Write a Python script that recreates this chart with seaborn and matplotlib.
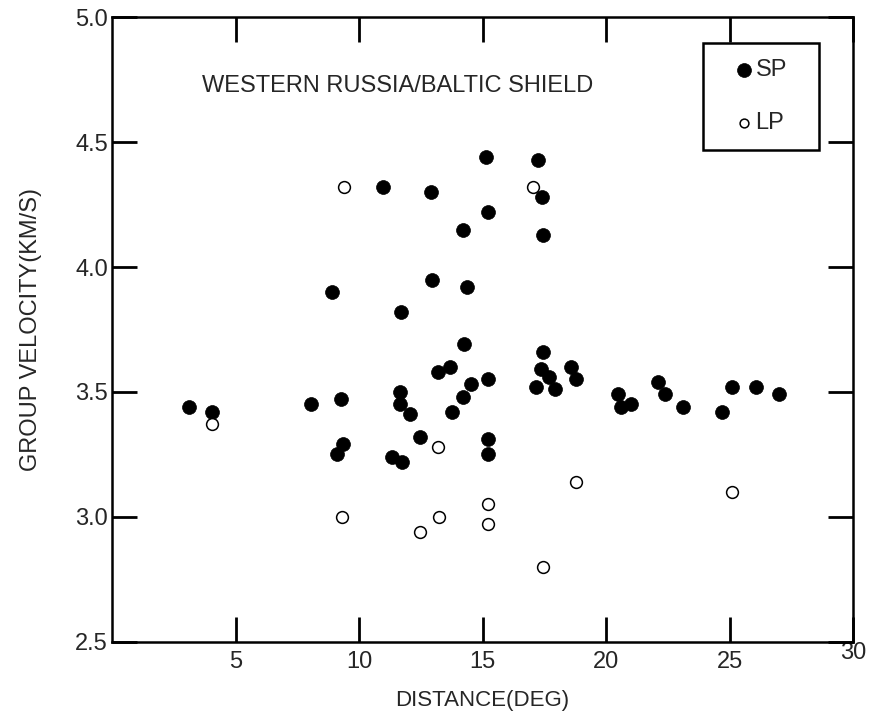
import matplotlib
matplotlib.use("Agg")
import matplotlib.pyplot as plt
import matplotlib.transforms as mtransforms
from matplotlib.patches import Rectangle
import seaborn as sns
import pandas as pd

# ---- data ----
sp_distance = [3.1, 4.05, 8.05, 9.25, 9.35, 9.1, 8.9, 10.95, 12.9, 15.15,
               15.2, 14.2, 12.95, 14.35, 11.7, 14.25, 13.2, 13.7, 14.55, 14.2,
               13.75, 15.2, 11.65, 11.65, 12.05, 12.45, 11.35, 11.75, 15.2, 15.2,
               17.25, 17.4, 17.45, 17.45, 17.35, 17.7, 17.15, 17.95, 18.6, 18.8,
               20.5, 20.6, 21.0, 22.1, 22.4, 23.1, 24.7, 25.1, 26.05, 27.0]
sp_velocity = [3.44, 3.42, 3.45, 3.47, 3.29, 3.25, 3.90, 4.32, 4.30, 4.44,
               4.22, 4.15, 3.95, 3.92, 3.82, 3.69, 3.58, 3.60, 3.53, 3.48,
               3.42, 3.55, 3.50, 3.45, 3.41, 3.32, 3.24, 3.22, 3.31, 3.25,
               4.43, 4.28, 4.13, 3.66, 3.59, 3.56, 3.52, 3.51, 3.60, 3.55,
               3.49, 3.44, 3.45, 3.54, 3.49, 3.44, 3.42, 3.52, 3.52, 3.49]

lp_distance = [4.05, 9.4, 17.05, 13.2, 9.3, 12.45, 13.25, 15.2, 15.2, 18.8, 25.1, 17.45]
lp_velocity = [3.37, 4.32, 4.32, 3.28, 3.00, 2.94, 3.00, 3.05, 2.97, 3.14, 3.10, 2.80]

x_ticks = [5, 10, 15, 20, 25, 30]
y_ticks = [2.5, 3.0, 3.5, 4.0, 4.5, 5.0]
y_tick_labels = ["2.5", "3.0", "3.5", "4.0", "4.5", "5.0"]

title_text = "WESTERN RUSSIA/BALTIC SHIELD"
x_label = "DISTANCE(DEG)"
y_label = "GROUP VELOCITY(KM/S)"

sp = pd.DataFrame({"distance": sp_distance, "velocity": sp_velocity})
lp = pd.DataFrame({"distance": lp_distance, "velocity": lp_velocity})

sns.set_style("ticks")
plt.rcParams["font.family"] = ["Liberation Sans", "DejaVu Sans"]

fig = plt.figure(figsize=(8.75, 7.17), dpi=100)
ax = fig.add_axes([0.128, 0.105, 0.847, 0.871])

sns.scatterplot(data=sp, x="distance", y="velocity", ax=ax, color="black",
                edgecolor="black", s=100, marker="o", linewidth=0.5, label="SP",
                zorder=3)
sns.scatterplot(data=lp, x="distance", y="velocity", ax=ax, color="white",
                edgecolor="black", s=72, marker="o", linewidth=1.1, label="LP",
                zorder=3)

ax.set_xlim(0, 30)
ax.set_ylim(2.5, 5.0)
ax.set_xticks(x_ticks)
ax.set_xticklabels([str(t) for t in x_ticks], fontsize=17)
ax.set_yticks(y_ticks)
ax.set_yticklabels(y_tick_labels, fontsize=17)

ax.tick_params(axis="both", direction="in", length=18, width=2,
               top=True, right=True, color="black")
ax.tick_params(axis="x", pad=7)
ax.tick_params(axis="y", pad=3)

# the corner "30" label sits a little higher in the reference
lab30 = ax.get_xticklabels()[-1]
lab30.set_transform(lab30.get_transform() +
                    mtransforms.ScaledTranslation(0, 7 / 72, fig.dpi_scale_trans))

for sp_name in ["left", "right", "top", "bottom"]:
    ax.spines[sp_name].set_linewidth(1.8)
    ax.spines[sp_name].set_color("black")

ax.set_xlabel(x_label, fontsize=16, labelpad=12)
ax.set_ylabel(y_label, fontsize=17, labelpad=24)

ax.text(0.1215, 0.89, title_text, transform=ax.transAxes, fontsize=17,
        ha="left", va="center")

# legend box drawn as in the reference
ax.add_patch(Rectangle((0.7976, 0.787), 0.1564, 0.171, transform=ax.transAxes,
                       fill=False, edgecolor="black", linewidth=1.8, zorder=4))
leg = ax.legend(loc="center", bbox_to_anchor=(0.876, 0.873),
                frameon=False, fontsize=17, handlelength=0.7,
                handletextpad=0.15, labelspacing=1.3, borderpad=0)
leg.legend_handles[1].set_sizes([40])

fig.savefig("out.png", dpi=100, facecolor="white")
